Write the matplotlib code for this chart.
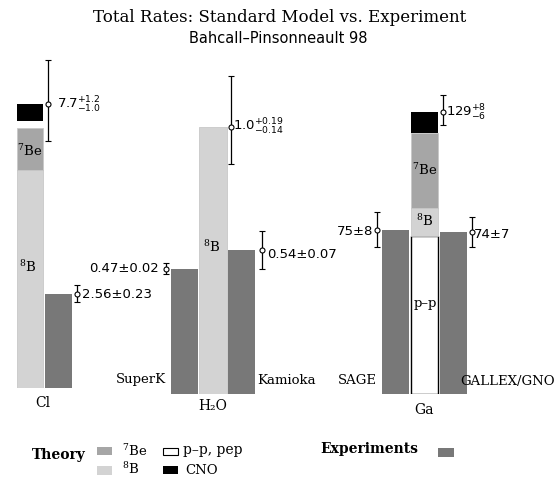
import matplotlib
matplotlib.use("Agg")
import matplotlib.pyplot as plt
from matplotlib.patches import Rectangle

# ---------------- data ----------------
# Chlorine (SNU)
cl_components = ["8B", "7Be", "pep", "CNO"]
cl_values = [5.9, 1.15, 0.2, 0.45]
cl_theory_total = 7.7
cl_theory_err = (1.0, 1.2)          # (minus, plus)
cl_exp = 2.56
cl_exp_err = 0.23

# Water Cherenkov (ratio to SSM)
h2o_components = ["8B"]
h2o_values = [1.0]
h2o_theory_total = 1.0
h2o_theory_err = (0.14, 0.19)
h2o_exp_names = ["SuperK", "Kamioka"]
h2o_exp = [0.47, 0.54]
h2o_exp_err = [0.02, 0.07]

# Gallium (SNU)
ga_components = ["pp", "8B", "7Be", "CNO"]
ga_values = [72.4, 12.4, 34.4, 9.8]
ga_theory_total = 129
ga_theory_err = (6, 8)
ga_exp_names = ["SAGE", "GALLEX/GNO"]
ga_exp = [75, 74]
ga_exp_err = [8, 7]

# ---------------- style ----------------
colors = {"8B": "#d3d3d3", "7Be": "#a6a6a6", "pep": "white", "pp": "white",
          "CNO": "black"}
exp_color = "#787878"
SERIF = ["DejaVu Serif", "DejaVu Sans"]
SANS = ["DejaVu Sans"]
BE7 = r"$^{7}$Be"
B8 = r"$^{8}$B"

W, H = 560, 478
fig = plt.figure(figsize=(W / 100, H / 100), dpi=100)


def group_axes(bottom_px, top_px, ymax):
    ax = fig.add_axes([0, (H - bottom_px) / H, 1, (bottom_px - top_px) / H])
    ax.set_xlim(0, W)
    ax.set_ylim(0, ymax)
    ax.axis("off")
    return ax


def stack(ax, x, width, comps, vals):
    bottom = 0
    for c, v in zip(comps, vals):
        ec = "black" if c == "pp" else ("#c8c8c8" if c in ("8B", "7Be") else "none")
        ax.bar(x, v, width, bottom=bottom, align="edge", color=colors[c],
               edgecolor=ec, linewidth=1.0 if c == "pp" else 0.6)
        bottom += v


def ebar(ax, x, y, lo, hi):
    ax.errorbar([x], [y], yerr=[[lo], [hi]], fmt="o", ms=3.6, mfc="white",
                mec="black", mew=0.8, ecolor="black", elinewidth=0.9,
                capsize=2.4, capthick=0.9)


BW = 27
# Chlorine group
ax_cl = group_axes(388, 40, 348 / 36.88)
stack(ax_cl, 17, 26, cl_components, cl_values)
ax_cl.bar(45, cl_exp, BW, align="edge", color=exp_color, edgecolor="none")
ebar(ax_cl, 48, cl_theory_total, *cl_theory_err)
ebar(ax_cl, 77, cl_exp, cl_exp_err, cl_exp_err)

# Water group
ax_h = group_axes(394, 40, 354 / 267.0)
stack(ax_h, 199, 28, h2o_components, h2o_values)
for xx, v in zip([171, 228], h2o_exp):
    ax_h.bar(xx, v, BW, align="edge", color=exp_color, edgecolor="none")
ebar(ax_h, 231, h2o_theory_total, *h2o_theory_err)
for xx, v, e in zip([166, 262], h2o_exp, h2o_exp_err):
    ebar(ax_h, xx, v, e, e)

# Gallium group
ax_g = group_axes(393.5, 40, 353.5 / 2.182)
stack(ax_g, 411, 27, ga_components, ga_values)
for xx, v in zip([382, 440], ga_exp):
    ax_g.bar(xx, v, BW, align="edge", color=exp_color, edgecolor="none")
ebar(ax_g, 443, ga_theory_total, *ga_theory_err)
for xx, v, e in zip([377, 472], ga_exp, ga_exp_err):
    ebar(ax_g, xx, v, e, e)

# ---------------- overlay (text, legend) ----------------
ov = fig.add_axes([0, 0, 1, 1])
ov.set_xlim(0, W)
ov.set_ylim(H, 0)
ov.axis("off")
ov.patch.set_visible(False)

ov.text(280, 17, "Total Rates: Standard Model vs. Experiment", family=SERIF,
        fontsize=12, ha="center", va="center")
ov.text(278, 38, "Bahcall\u2013Pinsonneault 98", family=SANS, fontsize=10.5,
        ha="center", va="center")

# labels inside bars
for (x, y, s) in [(30, 151, BE7), (28, 267, B8), (212, 247, B8),
                  (425, 170, BE7), (425, 221, B8), (425, 303, "p\u2013p")]:
    ov.text(x, y, s, family=SERIF, fontsize=9.5, ha="center", va="center",
            math_fontfamily="dejavuserif")

# numeric labels
num = [
    (57, 105, "7.7$^{+1.2}_{-1.0}$", "left"),
    (82, 294, "2.56\u00b10.23", "left"),
    (159, 268, "0.47\u00b10.02", "right"),
    (233, 127, "1.0$^{+0.19}_{-0.14}$", "left"),
    (267, 255, "0.54\u00b10.07", "left"),
    (373, 231, "75\u00b18", "right"),
    (474, 234, "74\u00b17", "left"),
    (446, 113, "129$^{+8}_{-6}$", "left"),
]
for x, y, s, ha in num:
    ov.text(x, y, s, family=SANS, fontsize=9.5, ha=ha, va="center")

# group and experiment names
ov.text(43, 403, "Cl", family=SERIF, fontsize=10, ha="center", va="center")
ov.text(213, 406, "H\u2082O", family=SERIF, fontsize=10, ha="center", va="center")
ov.text(424, 410, "Ga", family=SERIF, fontsize=10, ha="center", va="center")
ov.text(166, 380, h2o_exp_names[0], family=SERIF, fontsize=9.5, ha="right", va="center")
ov.text(257, 381, h2o_exp_names[1], family=SERIF, fontsize=9.5, ha="left", va="center")
ov.text(377, 381, ga_exp_names[0], family=SERIF, fontsize=9.5, ha="right", va="center")
ov.text(460, 381, ga_exp_names[1], family=SERIF, fontsize=9.5, ha="left", va="center")

# legend
ov.text(32, 455, "Theory", family=SERIF, fontsize=10, fontweight="bold",
        ha="left", va="center")
ov.add_patch(Rectangle((97, 447), 15, 8, facecolor=colors["7Be"], edgecolor="none"))
ov.add_patch(Rectangle((97, 466), 15, 9, facecolor=colors["8B"], edgecolor="none"))
ov.add_patch(Rectangle((163, 448), 15, 7, facecolor="white", edgecolor="black", lw=0.8))
ov.add_patch(Rectangle((163, 466), 15, 8, facecolor="black", edgecolor="none"))
ov.text(122, 451, BE7, family=SERIF, fontsize=9.5, ha="left", va="center",
        math_fontfamily="dejavuserif")
ov.text(122, 469, B8, family=SERIF, fontsize=9.5, ha="left", va="center",
        math_fontfamily="dejavuserif")
ov.text(183, 450, "p\u2013p, pep", family=SERIF, fontsize=10, ha="left", va="center")
ov.text(185, 470, "CNO", family=SERIF, fontsize=9.5, ha="left", va="center")
ov.text(320, 449, "Experiments", family=SERIF, fontsize=10, fontweight="bold",
        ha="left", va="center")
ov.add_patch(Rectangle((438, 448), 16, 9, facecolor=exp_color, edgecolor="none"))

fig.savefig("out.png", dpi=100)
